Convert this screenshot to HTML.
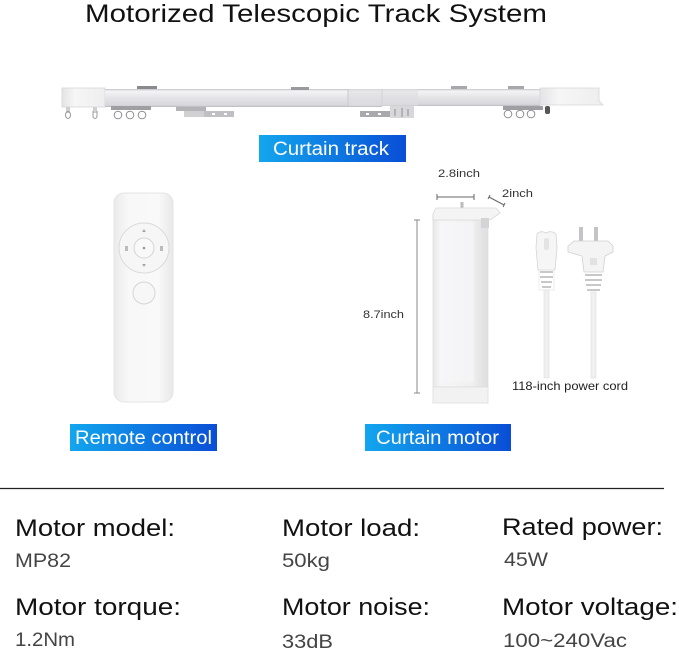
<!DOCTYPE html>
<html><head><meta charset="utf-8">
<style>
html,body{margin:0;padding:0;background:#fff;}
svg{display:block;}
text{font-family:"Liberation Sans",sans-serif;}
</style></head>
<body>
<svg width="679" height="649" viewBox="0 0 679 649" xmlns="http://www.w3.org/2000/svg">
<defs>
<linearGradient id="blue" x1="0" y1="0" x2="1" y2="0">
<stop offset="0" stop-color="#12a6ee"/>
<stop offset="1" stop-color="#0a4ed6"/>
</linearGradient>
<linearGradient id="rail" x1="0" y1="0" x2="0" y2="1">
<stop offset="0" stop-color="#c4c4c8"/>
<stop offset="0.12" stop-color="#f4f4f6"/>
<stop offset="0.5" stop-color="#e4e4e7"/>
<stop offset="0.9" stop-color="#d8d8dc"/>
<stop offset="1" stop-color="#b8b8bd"/>
</linearGradient>
<linearGradient id="cap" x1="0" y1="0" x2="1" y2="0">
<stop offset="0" stop-color="#e4e4e6"/>
<stop offset="0.3" stop-color="#f6f6f7"/>
<stop offset="1" stop-color="#eeeeef"/>
</linearGradient>
<linearGradient id="remote" x1="0" y1="0" x2="1" y2="0">
<stop offset="0" stop-color="#ebebeb"/>
<stop offset="0.25" stop-color="#f8f8f8"/>
<stop offset="0.75" stop-color="#f9f9f9"/>
<stop offset="1" stop-color="#e8e8e8"/>
</linearGradient>
<linearGradient id="motor" x1="0" y1="0" x2="1" y2="0">
<stop offset="0" stop-color="#e8e8ea"/>
<stop offset="0.15" stop-color="#f6f6f7"/>
<stop offset="0.7" stop-color="#f0f0f1"/>
<stop offset="1" stop-color="#dedee0"/>
</linearGradient>
</defs>

<!-- Title -->
<text x="85" y="22" font-size="25" fill="#111" textLength="462" lengthAdjust="spacingAndGlyphs">Motorized Telescopic Track System</text>

<!-- Track -->
<g>
<rect x="62" y="88" width="43" height="19" fill="url(#cap)" stroke="#d6d6d8" stroke-width="0.8"/>
<rect x="105" y="89" width="277" height="18" fill="url(#rail)"/>
<rect x="382" y="89" width="158" height="17" fill="url(#rail)"/>
<rect x="348" y="89" width="70" height="17" fill="#dedee1" opacity="0.6"/>
<line x1="348" y1="89" x2="348" y2="106" stroke="#c4c4c8" stroke-width="0.8"/>
<line x1="382" y1="89" x2="382" y2="106" stroke="#cfcfd3" stroke-width="0.8"/>
<path d="M540 88 L599 88 L599 101 L603 105 L540 105 Z" fill="url(#cap)" stroke="#d6d6d8" stroke-width="0.8"/>
<rect x="137" y="86" width="20" height="3" fill="#8a8a8e"/>
<rect x="291" y="87" width="18" height="3" fill="#9a9a9e"/>
<rect x="451" y="86" width="16" height="3" fill="#a8a8ac"/>
<rect x="508" y="86" width="16" height="3" fill="#a8a8ac"/>
<rect x="66" y="107" width="4" height="6" fill="#cfcfd2"/>
<ellipse cx="68" cy="115" rx="2.5" ry="3.5" fill="none" stroke="#9a9a9e" stroke-width="1"/>
<rect x="93" y="107" width="4" height="6" fill="#cfcfd2"/>
<path d="M93 111 L93 117 Q95 120 97 117 L97 111" fill="none" stroke="#9a9a9e" stroke-width="1"/>
<rect x="111" y="106" width="40" height="4" fill="#9e9ea3"/>
<circle cx="118" cy="115" r="3.8" fill="none" stroke="#8e8e93" stroke-width="1"/>
<circle cx="130" cy="115" r="3.8" fill="none" stroke="#8e8e93" stroke-width="1"/>
<circle cx="142" cy="115" r="3.8" fill="none" stroke="#8e8e93" stroke-width="1"/>
<rect x="176" y="107" width="30" height="4" fill="#b4b4b8"/>
<rect x="184" y="111" width="22" height="6" fill="#d0d0d3"/>
<rect x="204" y="111" width="30" height="6" fill="#c0c0c4"/>
<rect x="212" y="113" width="3" height="2" fill="#fff"/>
<rect x="224" y="113" width="3" height="2" fill="#fff"/>
<rect x="360" y="111" width="30" height="6" fill="#a8a8ad"/>
<rect x="366" y="113" width="3" height="2" fill="#fff"/>
<rect x="378" y="113" width="3" height="2" fill="#fff"/>
<rect x="390" y="106" width="24" height="12" fill="#d8d8db"/>
<path d="M395 109 L395 116 M402 108 L402 117 M408 109 L408 116" stroke="#8e8e93" stroke-width="1"/>
<rect x="503" y="106" width="40" height="4" fill="#9e9ea3"/>
<circle cx="508" cy="114" r="3.8" fill="none" stroke="#8e8e93" stroke-width="1"/>
<circle cx="520" cy="114" r="3.8" fill="none" stroke="#8e8e93" stroke-width="1"/>
<circle cx="531" cy="114" r="3.8" fill="none" stroke="#8e8e93" stroke-width="1"/>
<rect x="545" y="106" width="5" height="8" rx="2" fill="#55555a"/>
</g>

<rect x="259" y="135" width="147" height="27" fill="url(#blue)"/>
<text x="273" y="155" font-size="19" fill="#fff" textLength="116" lengthAdjust="spacingAndGlyphs">Curtain track</text>

<!-- Remote -->
<g>
<rect x="114" y="193" width="59" height="209" rx="10" fill="url(#remote)" stroke="#e4e4e4" stroke-width="1"/>
<circle cx="144" cy="248" r="25" fill="#f6f6f6" stroke="#d9d9d9" stroke-width="1"/>
<circle cx="144" cy="248" r="10" fill="#f9f9f9" stroke="#d4d4d4" stroke-width="1"/>
<circle cx="144" cy="248" r="1.3" fill="#999"/>
<path d="M142 232 L146 232 L144 229 Z" fill="#aaa"/>
<path d="M142 264 L146 264 L144 267 Z" fill="#aaa"/>
<rect x="125" y="246" width="3" height="5" fill="#bbb"/>
<rect x="160" y="246" width="3" height="5" fill="#bbb"/>
<circle cx="144" cy="293" r="11" fill="#f7f7f7" stroke="#d6d6d6" stroke-width="1"/>
</g>

<rect x="70" y="424" width="147" height="27" fill="url(#blue)"/>
<text x="75" y="444" font-size="19" fill="#fff" textLength="137" lengthAdjust="spacingAndGlyphs">Remote control</text>

<!-- Motor -->
<g>
<text x="438" y="177" font-size="11" fill="#333" textLength="42" lengthAdjust="spacingAndGlyphs">2.8inch</text>
<line x1="437" y1="197" x2="474" y2="197" stroke="#666" stroke-width="1"/>
<line x1="437" y1="194" x2="437" y2="200" stroke="#666" stroke-width="1"/>
<line x1="474" y1="194" x2="474" y2="200" stroke="#666" stroke-width="1"/>
<text x="502" y="197" font-size="11" fill="#333" textLength="31" lengthAdjust="spacingAndGlyphs">2inch</text>
<line x1="489" y1="197" x2="504" y2="205" stroke="#666" stroke-width="1"/>
<line x1="488" y1="199" x2="490" y2="195" stroke="#666" stroke-width="1"/>
<line x1="503" y1="207" x2="505" y2="203" stroke="#666" stroke-width="1"/>
<line x1="417" y1="220" x2="417" y2="393" stroke="#888" stroke-width="1"/>
<line x1="414" y1="220" x2="420" y2="220" stroke="#888" stroke-width="1"/>
<line x1="414" y1="393" x2="420" y2="393" stroke="#888" stroke-width="1"/>
<text x="363" y="318" font-size="11" fill="#333" textLength="41" lengthAdjust="spacingAndGlyphs">8.7inch</text>
<rect x="460.5" y="202" width="3" height="7" fill="#bbb"/>
<rect x="433" y="214" width="55" height="173" fill="url(#motor)" stroke="#dedee0" stroke-width="0.8"/>
<rect x="440" y="222" width="34" height="160" fill="#f8f8f9" opacity="0.5"/>
<rect x="433" y="387" width="55" height="16" fill="#f2f2f3" stroke="#dcdcde" stroke-width="0.8"/>
<path d="M433 214 L436 208 L496 208 L500 213 L490 220 L433 220 Z" fill="#f4f4f5" stroke="#d8d8da" stroke-width="0.8"/>
<rect x="481" y="218" width="8" height="10" fill="#d4d4d6"/>
<path d="M537 234 Q541 230 546 233 Q551 230 556 234 L557 248 L555 270 L538 270 L536 248 Z" fill="#f6f6f6" stroke="#d4d4d4" stroke-width="0.8"/>
<rect x="544" y="238" width="5" height="12" rx="2" fill="#e4e4e4"/>
<path d="M540 272 L553 272 M540 277 L553 277 M541 282 L552 282 M542 287 L551 287" stroke="#c8c8c8" stroke-width="2"/>
<rect x="539" y="270" width="15" height="20" fill="none" stroke="#e0e0e0" stroke-width="0.6"/>
<rect x="544" y="290" width="5" height="88" fill="#f0f0f0" stroke="#dedede" stroke-width="0.6"/>
<rect x="579" y="227" width="4" height="18" fill="#c4c4c6"/>
<rect x="594" y="227" width="4" height="18" fill="#c4c4c6"/>
<path d="M568 246 L574 241 L608 241 L613 246 L613 252 L605 256 L603 272 L584 272 L582 256 L568 252 Z" fill="#f4f4f4" stroke="#d0d0d0" stroke-width="0.8"/>
<rect x="590" y="258" width="7" height="7" fill="#e2e2e2"/>
<path d="M585 275 L602 275 M585 280 L602 280 M586 285 L601 285 M587 290 L600 290" stroke="#c8c8c8" stroke-width="2"/>
<rect x="591" y="292" width="5" height="86" fill="#f0f0f0" stroke="#dedede" stroke-width="0.6"/>
<text x="512" y="390" font-size="12" fill="#222" textLength="116" lengthAdjust="spacingAndGlyphs">118-inch power cord</text>
</g>

<rect x="365" y="424" width="146" height="27" fill="url(#blue)"/>
<text x="376" y="444" font-size="19" fill="#fff" textLength="123" lengthAdjust="spacingAndGlyphs">Curtain motor</text>

<line x1="0" y1="488.5" x2="664" y2="488.5" stroke="#222" stroke-width="1.2"/>

<g fill="#111" font-size="24">
<text x="15" y="536" textLength="160" lengthAdjust="spacingAndGlyphs">Motor model:</text>
<text x="282" y="536" textLength="138" lengthAdjust="spacingAndGlyphs">Motor load:</text>
<text x="502" y="535" textLength="161" lengthAdjust="spacingAndGlyphs">Rated power:</text>
<text x="15" y="615" textLength="166" lengthAdjust="spacingAndGlyphs">Motor torque:</text>
<text x="282" y="615" textLength="148" lengthAdjust="spacingAndGlyphs">Motor noise:</text>
<text x="502" y="615" textLength="176" lengthAdjust="spacingAndGlyphs">Motor voltage:</text>
</g>
<g fill="#444" font-size="19">
<text x="15" y="567" textLength="56" lengthAdjust="spacingAndGlyphs">MP82</text>
<text x="282" y="567" textLength="48" lengthAdjust="spacingAndGlyphs">50kg</text>
<text x="504" y="566" textLength="44" lengthAdjust="spacingAndGlyphs">45W</text>
<text x="15" y="646" textLength="60" lengthAdjust="spacingAndGlyphs">1.2Nm</text>
<text x="282" y="648" textLength="51" lengthAdjust="spacingAndGlyphs">33dB</text>
<text x="503" y="647" textLength="124" lengthAdjust="spacingAndGlyphs">100~240Vac</text>
</g>
</svg>
</body></html>
